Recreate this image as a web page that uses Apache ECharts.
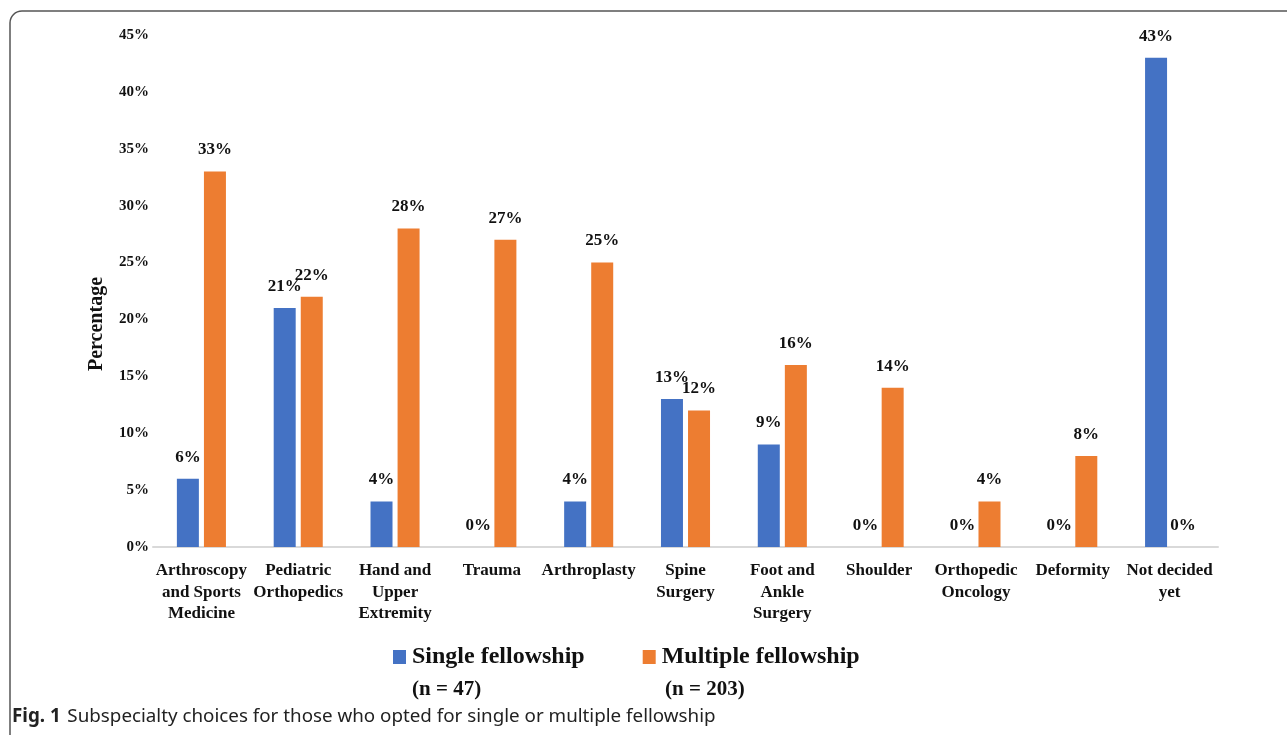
<!DOCTYPE html>
<html>
<head>
<meta charset="utf-8">
<script src="https://cdn.jsdelivr.net/npm/echarts@6/dist/echarts.min.js"></script>
<style>
  html, body { margin: 0; padding: 0; background: #fff; }
  #chart { width: 1287px; height: 735px; }
</style>
</head>
<body>
<div id="chart"></div>
<script>
const categories = [
  'Arthroscopy\nand Sports\nMedicine', 'Pediatric\nOrthopedics', 'Hand and\nUpper\nExtremity',
  'Trauma', 'Arthroplasty', 'Spine\nSurgery', 'Foot and\nAnkle\nSurgery', 'Shoulder',
  'Orthopedic\nOncology', 'Deformity', 'Not decided\nyet'
]
const singleFellowship = [6, 21, 4, 0, 4, 13, 9, 0, 0, 0, 43]
const multipleFellowship = [33, 22, 28, 27, 25, 12, 16, 14, 4, 8, 0]
const seriesNames = ['Single fellowship', 'Multiple fellowship']
const sampleSizes = ['(n = 47)', '(n = 203)']

const serif = '"Liberation Serif", "DejaVu Serif", serif'
const captionFont = '"Noto Sans", sans-serif'
const colors = ['#4472C4', '#ED7D31']

let myChart = echarts.init(document.getElementById('chart'))
myChart.setOption({
  animation: false,
  backgroundColor: '#fff',
  color: colors,
  textStyle: { fontFamily: serif },
  grid: { left: 153, right: 69, top: 35, bottom: 188, containLabel: false },
  legend: {
    data: seriesNames,
    top: 640,
    left: 388,
    itemWidth: 13,
    itemHeight: 14,
    itemGap: 58,
    icon: 'rect',
    selectedMode: false,
    textStyle: { fontFamily: serif, fontWeight: 'bold', fontSize: 24, color: '#111', padding: [0, 0, 0, 1] }
  },
  xAxis: {
    type: 'category',
    data: categories,
    axisTick: { show: false },
    axisLine: { lineStyle: { color: '#d9d9d9', width: 2 } },
    axisLabel: {
      interval: 0,
      margin: 13,
      fontFamily: serif,
      fontWeight: 'bold',
      fontSize: 17,
      lineHeight: 21.5,
      color: '#111'
    }
  },
  yAxis: {
    type: 'value',
    min: 0,
    max: 45,
    interval: 5,
    name: 'Percentage',
    nameLocation: 'middle',
    nameGap: 46,
    nameTextStyle: { fontFamily: serif, fontWeight: 'bold', fontSize: 20, color: '#111', padding: [0, 66, 0, 0] },
    axisLine: { show: false },
    axisTick: { show: false },
    splitLine: { show: false },
    axisLabel: {
      formatter: '{value}%',
      margin: 4,
      fontFamily: serif,
      fontWeight: 'bold',
      fontSize: 15,
      color: '#111'
    }
  },
  graphic: [
    {
      type: 'rect',
      shape: { x: 10, y: 11, width: 1400, height: 900, r: 12 },
      style: { fill: 'none', stroke: '#555', lineWidth: 1.5 },
      silent: true
    },
    {
      type: 'text',
      left: 412,
      top: 679,
      style: { text: sampleSizes[0], font: 'bold 21px ' + serif, fill: '#111' }
    },
    {
      type: 'text',
      left: 665,
      top: 679,
      style: { text: sampleSizes[1], font: 'bold 21px ' + serif, fill: '#111' }
    },
    {
      type: 'text',
      left: 12,
      top: 707,
      style: {
        text: '{b|Fig. 1}  {n|Subspecialty choices for those who opted for single or multiple fellowship}',
        rich: {
          b: { fontFamily: captionFont, fontWeight: 'bold', fontSize: 18.8, fill: '#222' },
          n: { fontFamily: captionFont, fontSize: 18.8, fill: '#222' }
        }
      }
    }
  ],
  series: [
    {
      name: seriesNames[0],
      type: 'bar',
      data: singleFellowship,
      barWidth: 22,
      barGap: '23%',
      label: {
        show: true,
        position: 'top',
        distance: 13,
        formatter: '{c}%',
        fontFamily: serif,
        fontWeight: 'bold',
        fontSize: 17,
        color: '#111'
      }
    },
    {
      name: seriesNames[1],
      type: 'bar',
      data: multipleFellowship,
      barWidth: 22,
      label: {
        show: true,
        position: 'top',
        distance: 13,
        formatter: '{c}%',
        fontFamily: serif,
        fontWeight: 'bold',
        fontSize: 17,
        color: '#111'
      }
    }
  ]
})
</script>
</body>
</html>
